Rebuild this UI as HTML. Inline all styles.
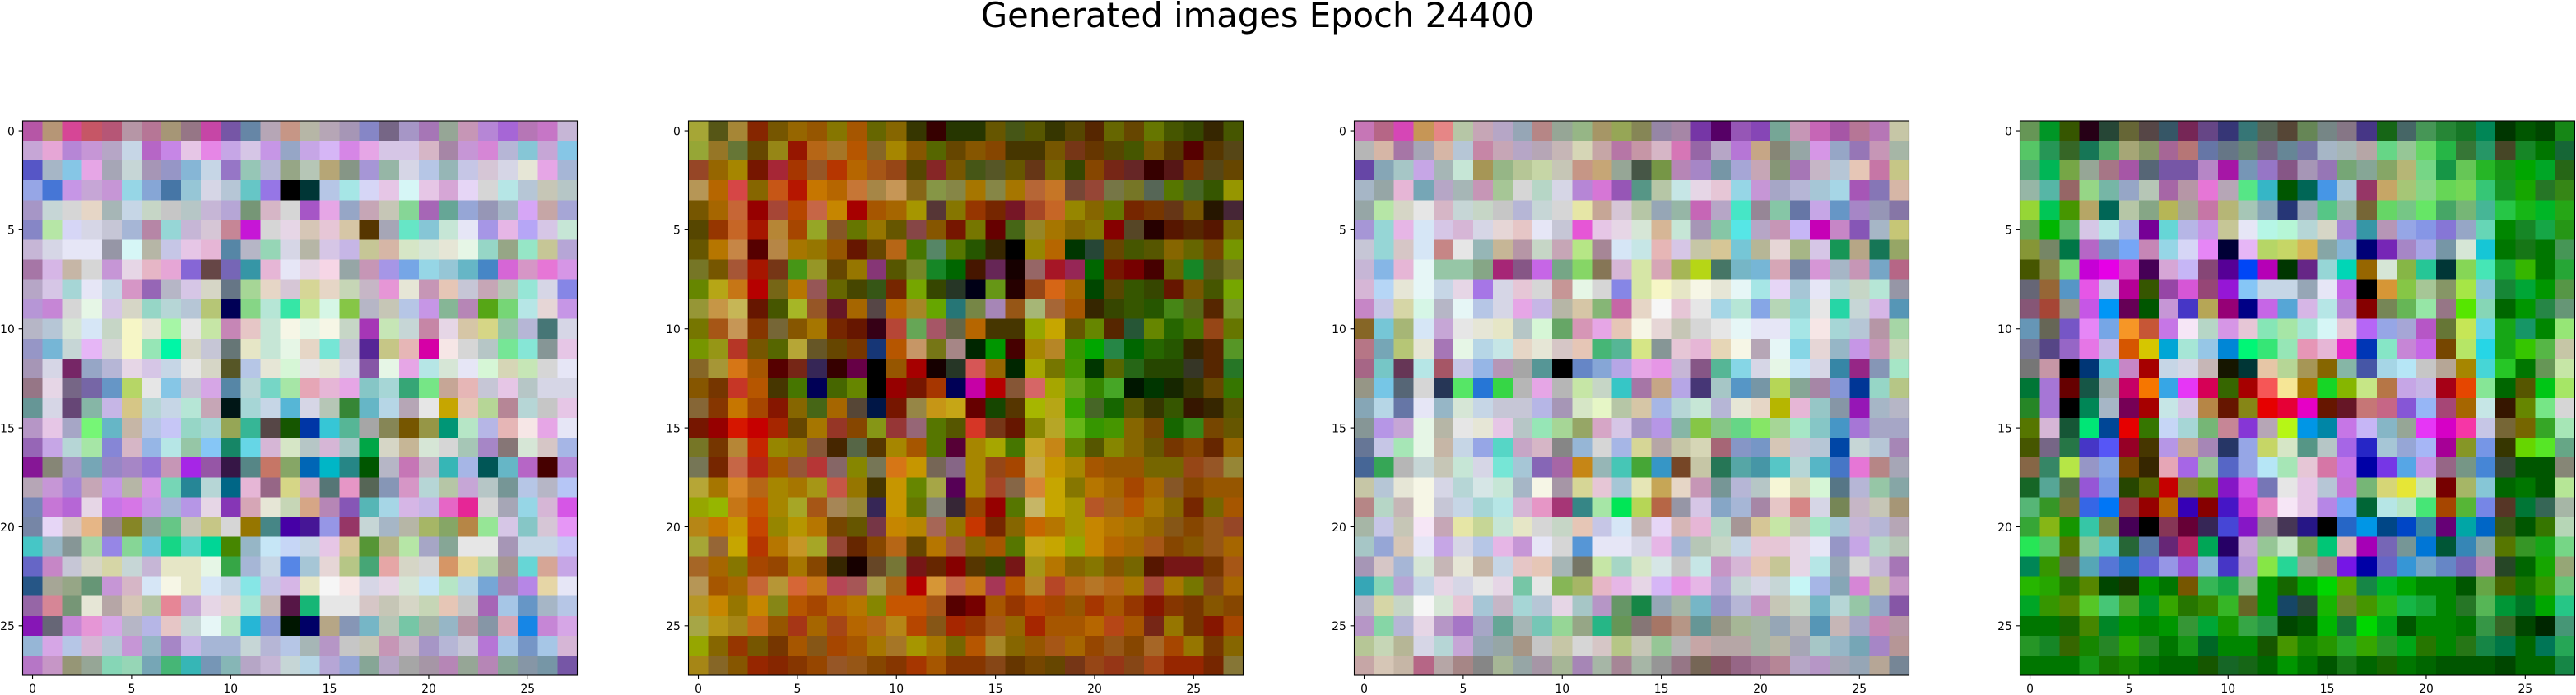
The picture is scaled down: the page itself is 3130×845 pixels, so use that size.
<!DOCTYPE html>
<html lang="en">
<head>
<meta charset="utf-8">
<title>Generated images Epoch 24400</title>
<style>
html,body{margin:0;padding:0;background:#fff;width:3130px;height:845px;overflow:hidden}
svg{display:block}
text{font-family:"DejaVu Sans","Liberation Sans",sans-serif;fill:#000}
</style>
</head>
<body>
<svg id="fig" xmlns="http://www.w3.org/2000/svg" width="3130" height="845" viewBox="0 0 3130 845">
<rect x="0" y="0" width="3130" height="845" fill="#fff"/>
<text x="1528" y="33" font-size="41.67" text-anchor="middle">Generated images Epoch 24400</text>
</svg>
<script>
const tickValues = [0, 5, 10, 15, 20, 25];
const tickLabels = ["0", "5", "10", "15", "20", "25"];
const panelNames = ["image-1", "image-2", "image-3", "image-4"];

const image1Rows = [
"b5a b97 d49 c56 b57 b9a b79 a97 978 c4a 75a 68a bab c98 bba bab a9b 88c 768 a9c a7b 9a9 c9b b8d a6d b7b c7c cbd",
"cad ead b8d c9d bac cde b6c c8e ece e8e cae dce c9e 9ac cae dbf d8e eae dce dce dbc a8a c9d d8d bbd 8cd cad 8ce",
"55c abc 8ce eae aab cdd a9b 99c 8bd cde 97c 9cb bbd 9a8 bcb ba7 898 a9d 9ba dde bce 9bb cce dcd dde eed eae abd",
"9ae 47d c9e cad c9d 9de 8ad 47a 9cd dde bcd 6cc 97e 000 033 bce aee ddf ece dff ece dad edf ddd bee bcd ccb bcc",
"a9c cdd ddd edc abb cde cdc ccc bcc cbd bad 797 dbc ddd a5c eae 9ac cab ccb 8d9 a6b 6a9 9ad 99b abc daf caa aad",
"88c bea ddf dde ccd abd b8a 9dd cbd dcd c89 c1d ddd ede dcb ecd dca 530 aab 6ec 8cd ced eef a9e ebe baf dce ced",
"cbd dde eef eef 99a dff bba cce ece ebd 58a bbc 9db dde bba dce cbe cc9 dba dec ded eed efe 9dc 9a8 9ec cc9 bad",
"a7a dbe cba ddd c9d ede ebc ead 86d 644 76b 39a ebd eef ede fde 9aa c9b a9e 7ae 9de 9cd 6bc 48c d6d d9c e7d d9e",
"bac dce add eef cde d9c 96b bbc dce ddc 678 ad9 edc dcd dd9 edc cdb cbc e9d eed c9b ecb ccd cab bcb 9ed dde 88e",
"b9d c8d ddd efe dce ddc 9dc bdd bcd bc7 005 8d8 bed 3ea ce9 dfe 8c4 bbc ccb bce c9e 8b9 b8b 5a1 7d7 bee edd c9e",
"bbc bcd ded def cdc ffc eed afa eee cea c8b ecc ced ffe efe ffe cdc a3b ceb cdd c8a ede dca dd8 9ca bbd 477 dde",
"99c 7bd cdd ebf ddd ffc 9eb 0fa ddc ccd 677 eec ced efe edc 7ed ccd 529 cc8 ebb d0a fee ddd bcc 7e9 8ed 899 ece",
"a9b dde 726 9ac bbd ede dce cde eee ddc 552 bce eed dfd eee eed dde 85a efe eae bee ded eef dfd ddb ceb ddd eef",
"978 ede 768 76a 69c bd6 eee 8ce ccd dae 58a bdd 7dc aea eab ebd eae 8cc add 3a7 7e8 ca9 ebb ccd ece bcc dde dde",
"699 dde 647 8ba cbe dc8 bdd cde bed cab 011 add cde 5bd dde bcb 383 6bc bde bab eee ca0 ecb bd9 b89 bdd ccc ece",
"b9c ece aac 7f7 6bc cba bce ccf 9dc add 9a5 3b9 544 150 03a 3cd 5b9 aaa 885 750 994 097 bec bbe ebb fee eae eef",
"96b cae bdd aea 88d dbc 9be bee 9ca 8cf 186 6de dbd dec bcc dbd acc 0a4 ddc cb9 ded ddd acb a8c 877 ded dcc abe",
"819 887 a9c 7ab 98c a8c 97d c9b a2e 95a 314 588 c76 8a6 06b 0bc 288 050 bbc c7b cbc 3bb abe 055 6bc b6c 400 b8d",
"bab c9d a8d cab c9e bba d9e 7db 289 bdd 068 ebd 968 dd8 dac 577 e9c 565 89b d9c bdd bca cad bcc 799 bce bbc bcf",
"78b c7d b6d ede c7e d7e c9e abd b9e ede 83b dab eed cdb da8 b8b 85b 5bb ade dbe cbe e6c e29 ddd aab 9de dbd d5e",
"78a edf dcc eb8 988 882 8a9 6c8 ccb cc8 ddd 970 488 40a 419 99e 936 cdd abc bba ab6 8a6 b84 9e9 dce 8cc dcd e9f",
"4cc 9bc 899 ada 98e 8d9 6cd 1d8 5dc 0d9 480 9bc cef cdf cde ece dc9 593 bb8 bea aac 8a9 eee eee a9b cde cde ccf",
"66c c8c ccd ddc dda cdd cbd eec eec efe 3a4 abd cde 58e acd edd bc8 4a7 eaa ddc ddd d96 ed9 bda a99 6dd da9 cae",
"258 aa9 9a8 697 c9d dbc def ffe eec def cde 8ee cce dbe eec fff fee dde ede ded cef bec bde 7ad a8b b8e eda eef",
"96a d89 797 eed baa dcb bca e89 cad ede edd aed cbb 514 1b7 eee eee dcc ccb ddc cdb ecb ccc a6b ace 69c abc bce",
"81b 667 c8d e9d dae bbc bbe ecc cdd eff bec 2bd 89d 010 006 ba8 89b 7bc bcb 7ca aba 9bc b9a 89a dab 18e c8d dae",
"9bd dae bce dbd bcd c9d 9bc a8c cbe abd abd cdd bbd bce abb b9c ccc ccb c9b cbc a9c bbd ccd b7d ace 79c ace dbd",
"b7c c9c 997 9a9 8db 9db 7ab 4b7 3bb 79b 8bb bac cbd cdd bde bad 9ad 8a9 bac aaa a9a b8b 9a9 b8b 8a9 89a 79a 75a"
];

const image2Rows = [
"aa3 551 a83 820 750 960 950 870 a50 660 860 330 300 230 230 650 451 550 330 540 520 660 640 670 450 340 320 450",
"9a3 972 673 640 981 910 b61 a72 b50 862 a80 850 560 640 850 840 430 430 750 731 630 540 450 750 530 500 530 541",
"942 960 a80 710 a23 a30 952 b30 b60 a51 941 540 822 750 451 552 650 631 760 340 840 721 622 300 511 730 541 640",
"b95 b60 d44 860 c51 b10 c70 b60 c73 a84 c95 861 894 884 a70 884 a70 b63 c72 743 943 774 772 565 570 462 350 990",
"750 a60 c63 900 a43 b40 c64 c80 a00 a50 a60 a90 533 870 930 720 712 a42 c62 980 860 670 720 730 631 750 210 423",
"540 930 c62 a10 b83 a40 9a2 852 670 970 650 844 850 710 770 600 461 982 a70 860 870 800 542 200 510 520 510 760",
"650 b70 c84 500 b84 a70 970 950 610 640 b61 470 586 570 250 320 000 980 b60 030 243 640 450 550 860 660 740 790",
"772 750 a53 a10 731 491 992 640 970 837 550 782 182 060 410 625 100 966 a12 925 060 710 700 400 660 182 551 772",
"680 ba1 c71 b00 761 b70 955 660 440 351 720 7a0 340 232 001 691 200 941 d61 a60 040 540 350 340 610 750 450 7a0",
"993 c94 cb5 610 450 ab2 952 612 a60 544 b60 a82 6a0 277 784 a8b 951 ab7 a63 a50 320 340 350 250 481 561 520 792",
"770 a51 c95 830 763 850 a70 720 610 301 b43 6a5 a56 664 b60 430 430 9a0 ca0 650 680 520 253 680 260 470 941 670",
"790 991 b32 750 560 ba3 652 640 730 137 b50 c96 771 a88 020 090 400 a80 b82 390 0a0 284 060 260 250 320 520 592",
"862 a93 d71 a50 500 721 325 300 604 000 950 a00 100 232 d55 960 020 aa0 770 490 030 560 261 240 240 332 520 272",
"850 730 c32 b50 430 470 005 460 680 000 900 710 a30 005 c0a b00 853 d66 aa0 6a1 380 4a2 010 030 120 330 640 370",
"863 830 c70 a40 810 860 461 a60 543 014 710 984 c91 ca1 600 140 530 ab0 ba1 3a0 462 160 550 330 350 310 320 550",
"710 900 d10 c00 a20 640 a70 932 840 891 933 967 570 550 d32 731 610 880 ba2 6b1 390 490 860 740 160 381 740 650",
"772 730 b83 c20 980 970 853 420 564 530 a80 a50 570 503 a80 aa0 470 ca2 c81 680 550 880 860 650 730 840 620 960",
"775 720 c64 b21 a50 953 b33 866 880 775 d71 c90 765 868 a80 941 a40 ca4 c90 a80 a50 950 950 760 760 941 952 983",
"ba3 a70 d82 b61 a80 a70 a91 c54 970 430 c90 680 aa4 505 a80 a42 864 d83 ca0 870 b70 a60 a40 a60 852 840 950 950",
"9a0 9b0 c71 c50 a80 aa2 a51 a85 983 325 c90 670 887 323 940 900 570 cb6 ca0 a90 b52 a61 b50 a70 860 720 760 a50",
"b81 c70 c90 c40 980 b90 b70 740 650 734 c80 b80 a65 970 c30 720 860 c60 b70 a90 c80 b70 a70 960 851 840 951 942",
"aa3 963 ca0 b30 b70 c92 aa2 943 620 840 b61 640 b70 a53 860 a50 570 ca1 ca0 9a0 c80 b60 a60 a51 840 850 951 a60",
"a62 a60 870 a40 940 a70 840 320 100 642 773 711 620 800 530 340 711 a91 b70 860 870 850 760 510 711 711 730 a51",
"b95 a50 a60 c63 b93 d63 c71 b45 a55 a94 a61 b00 d93 c64 c71 a35 b50 b82 b42 b61 b72 b61 a70 a43 a70 770 841 a60",
"b92 c80 970 c80 881 b50 a40 b60 b70 880 c50 c50 a51 500 700 a50 930 b40 a40 950 a30 a50 930 810 830 730 850 840",
"aa4 b91 a81 c61 950 a31 a60 a41 b60 b61 b81 b40 851 a20 930 a51 960 a20 a50 a50 b60 b41 a50 721 970 730 810 a40",
"9a0 860 930 750 730 a50 851 a40 a50 a70 a72 a90 a70 760 b50 a82 860 950 a51 a60 940 951 840 a62 a40 970 730 860",
"a81 862 850 920 820 830 940 952 951 840 830 a30 a50 830 830 841 630 740 640 731 941 931 841 a41 920 920 720 873"
];

const image3Rows = [
"c7b b68 d4b c95 e88 bca cab bac 9ab b88 9a9 9b8 a96 9a5 885 98a a8a 73a 506 95b 84b 7a9 c9b c6b a5a b79 b7b cca",
"bbb dba a7a aab dba bcd c8a cab bac bab cbb ddb caa b7a c9a dbc d7b 96a bac b7d ca8 887 9aa d9e 9ac 97b c9b aba",
"64a 8ab acc cae abb ced a95 9b8 bc9 cda ccb c98 ca7 9a9 454 794 b8b a8c 79a aad cab 897 a7b cbc bcd ecb c7a cc8",
"abc 9aa ebd 7ab bac abb c9b ac9 ddd bdc dde b8d d7d 95b 598 bca cee ede ecd 9de c9d aac bbd acd ade a5b 87b dba",
"9aa bea ddc eee dbc cdd cdc ccc bbd cdd ddd eea ca9 dcd bca 9ab 9ba c6b bac 4ec 989 8ca 67a cae 69c a8c 99b 87a",
"a9d 9dd ebe def dce dbd dde edd ecc eef ccd e5d ece ede ded db9 ced a9b 8ca 5ee bac c9b cbf c0b c8c 85b abc cc7",
"ccd 9dd dcc def c88 eee 9bb cb9 b9a cdc cab be8 a89 def cee ebb dce cca dc9 7cd bb9 edd ab8 dce 195 ba8 175 9a6",
"cbd 8be ebd eff 9ca 9ca 8a8 a27 858 c6e 7a8 8d6 875 dbd dea dab ab5 bd1 476 7bc 7bd dab 78a d9d abc c9b 7ac b68",
"dbd bdf eed eff cde ede a7e dde ecd ddd c99 efe ddd 88e dea ffc eec ffe eed eff aee edf acd eef bdd cdc bed 99a",
"c8c cce dda dfe bbc eff bce dde eae cbe bba dca 8b7 c6a edc fff ecd eee ade bed 8ae bdb 9dd eee 2da cdd dbe 59b",
"862 7cd ab7 def cad eee eed eec bcc dfd 6a6 d9b eae ecb ffe edd ccb ddd eee eff eef eef aee fee add bcd b9a ada",
"b78 7ab bc7 eed a7b efe bde cee edc eed dcc ecb 4b7 5b9 de8 899 ecd ebd edb ffe bab eff 8de edd 9bc c9e c9b cdb",
"a68 7cc 635 bee a56 cce 9be b9b aaa 599 000 68c 8ad bae eae e9e cbd 858 5b9 8de dde efe cef dde 38a 928 89b aec",
"998 7ce 567 ddd 235 5e6 27d 3d4 bbb eae bbb cea cdc 3cc a7a ca8 bae 437 acc 59c 79a bd5 8a9 a8a 89d 039 9dc bc8",
"8ab bde 67a eef 9bc ded cde ccd ccd bbe a9b dec efc bca dca abe bdd ced bbd eed edc bb0 ebd 9cc 89a 91b abc bbc",
"899 b9e cad efe bba eee eed ece bcc 9eb ad9 9a6 dac dce a9c b9e 8ba 8c4 8c8 6d8 8e6 ad9 aec 8cc 49c a7d aac aac",
"679 cce aeb efe cba cde 9ae 5dc cac dbc 888 9bd ddd abe dd9 baa cca ddb a67 89c 79c dcb ccd bcd 04a cdd bcd a8b",
"469 3a5 bbb cdd ccb ced dde 7ed acd 86b a6a c81 9bb 4cb 4a3 39c 742 cca 275 5aa 49a 5cc bdd 5bc 47c e7d b88 aab",
"cca bcd eed ffe dde bdd dee ced abc ffe a9a dd9 ecd acd eeb ca5 edc c9b 799 bbd bcc ffd ddb dfd 578 bbd 9ca 8aa",
"b88 bdc cbb ffe ccd cde add bee dbd e9c a37 388 aea 0e5 bd5 b64 99a dce 8ac abd a8a ecc d88 dde 785 cbc ccb a97",
"aba cce ccb fef cab eea cd9 ced eec ddd cdc ecb cce def cbb edf dbb ebd bdc a99 dc9 cea ccb aec acd cbd bbd bab",
"acc 9ad dcb eef cae dde bce ebe c9d eef ddd 59d eef eef dde ebe abd bcb cdc cde ecd ecd ede eef 99c cae bdc bcb",
"a9b dcc abd ded cbb eed cba cde ecc ecb abb 776 cea adc dec dee ccc cee c9c dbd ecb cc9 ede bee 9ab ddd cbd a7b",
"3ab 8db bad cde ede dde eee ede 7ca eee 8b5 ab6 ebc ebe ede dbf e9e ebe bad cdd dde cdd cff abe 8ab d8d cca c9c",
"bbc dda cdc fff ded ecd acd cbc add bcd ede acc b9c 696 184 9ab aba 7bc 99c bbd c9c ccb cdc 7bc bdd 9ca 9ac 85a",
"b9c 8da bbd ede b9c a7c aac 6a9 abb 7cb 9d9 9a8 2b8 695 877 a76 b98 699 998 ab9 aba 9ab bbb 59b cbb aac c8b b9a",
"bc9 cdb bb9 dde bdd cad 9ab 9aa a98 ccc cca ddd dcc bc8 ccb 9c9 bbb caa baa baa aba bba aab acc 9bc 7ab a8c b99",
"caa dcb cba b68 baa a88 888 ab9 9aa a9a ab9 a8b aba a89 aba 999 978 765 856 968 a79 b89 bac b9c aab 9ab ba9 789"
];

const image4Rows = [
"695 092 350 201 243 663 544 356 725 648 337 377 565 543 685 788 878 438 161 466 495 283 172 085 030 050 040 181",
"5c6 295 362 175 5a6 aa7 896 a69 b77 67a 678 687 768 689 77a abc abb baa 6d8 9c9 6d6 2b4 373 296 442 182 070 163",
"5a7 0b5 7a4 9a9 a78 a5a 567 75a 75a b8c a1a 79b 97c 858 a9b 97b 7a7 8a9 8a6 bb7 7d8 194 6c5 2b2 191 0a0 0a2 261",
"9ba 5ba 966 9d8 7ba 9ac bcb a6a b9a e7d bab 5e8 3bc 050 065 49e acd 936 ca6 ac7 8d8 6d5 7d5 3c7 192 1a0 272 381",
"9d3 0c5 490 ba6 065 bca 8a8 bb5 aa9 c7a bb7 acb 8ab 237 9ab 5c8 9ba 763 6d6 7c8 6e6 4a6 7b7 4b9 2c4 1b1 0b2 2a1",
"6a5 0b0 5b6 dce bee abe 709 6dd bbe c9e cc9 eef bfe bfd bdd ddc a8d 39a b9b 9ae 89e 87d 9ac 6db 080 182 1a4 291",
"893 786 074 b6c 79c 7af c8b 9de ddf e8f 003 ebf bd6 cd6 db5 8aa 8bd 007 72b a8c aae 79a ded 1cd 070 171 070 495",
"450 884 7d7 c0d e0e d4c 405 dad cbf 847 509 04f b0b 030 628 9dd 0db 960 ded 8b4 2c9 033 8d5 4eb 1a3 3b0 070 2a3",
"667 963 59c e5e cce b09 350 94a d5d 947 91d 8cf cde cde 9ab eef c6e 000 d93 8c4 ac9 896 ae4 8cd 183 0a3 090 594",
"857 a43 998 c5e 09f 605 050 c9d 43c ba5 907 008 c6e 5ad dbe bee b8d 800 785 6b5 9ea 978 5e0 8db 060 090 284 697",
"69b 665 75c e8f 7ae f92 c53 c7e fef bdc d9e ecd 8eb aea aed dff ecd b6f 9ae aad b5c 673 ce5 6de 1a1 196 080 9e7",
"779 548 96c e7e cbe d50 dc0 0ad aed 9ce 08d 0f7 3e7 9eb e9b ebd e2c 03b 8ec c8d c6e 740 be6 2de 1a1 3c0 5b4 cca",
"777 c9a 000 037 5cd c8c a00 cde dde cbb 110 033 eca bd9 a95 860 8ba 45a ade bef ccc ba9 a80 4dd 2c2 070 695 cea",
"073 a7d 600 154 9aa c06 f70 3ae e3f d05 360 a00 f55 fe9 a70 1d2 8b0 ce8 b74 cae cbe a01 e40 8e9 060 550 0c1 ae6",
"282 a7d 000 085 abc 705 a00 cee dce b84 610 881 e00 e03 e0c 610 612 c77 c68 85d 9bf a47 a60 cee 310 680 7e8 ddd",
"570 dbd 153 0e7 049 e00 370 cdf add 7b7 c89 83d bab bf1 09e 08a c7e cbf 8bc 9a9 e3f d0c f3a cce 763 760 3a2 aeb",
"450 768 274 43c 55f 902 430 b9e ca9 a8b 236 9ae cd6 dec 598 bcc a6e 22c acd 9ad abf a09 892 79e 330 6d0 5e2 6a8",
"864 386 be4 99c 8ae 740 320 eab a6e 9c9 56c 9ae bef aeb ecd d7a c7e 00a 73e 5ae c9e 968 798 48d 343 050 050 887",
"162 5a9 574 95d 79e 240 560 c00 883 691 81c d5e 77b eee ece bcd c7d 7b7 dd7 ee3 ceb 700 ab6 8cd 060 070 050 be9",
"5b7 392 773 36e 07f 934 900 b60 30b 800 41c c3d e8c fef ece b8e 7af 063 bee bec 4e7 a40 5b3 78e 532 073 365 aba",
"3a3 8b1 190 3ca 784 405 000 835 603 325 44d 81c 989 435 218 000 26c 09e 048 04c 38a 607 0aa 06c 351 050 370 bdb",
"2e5 5c6 570 8c9 5cc 263 57a 627 b26 0a5 206 cad 9c9 cec 7a5 0c7 dbb a0b 76b 799 07d 053 38b 8aa 570 392 1a1 7d8",
"085 390 665 5ab 57d 27c 66d 99e 95d 8bd 43c b9d 8e4 2d9 9a9 988 71e 00a 66c 39d 7ac 68c 76b b8b 242 060 1a0 9a7",
"2b0 2a0 270 580 040 130 090 070 750 3b5 1a4 8b8 090 160 0a0 0d0 5a0 184 0b2 0a0 080 080 050 6a4 460 170 390 6c7",
"0a2 390 580 5c2 4c7 4a2 092 3a0 270 380 3b2 662 090 146 243 1b0 682 490 2b1 1b4 1a3 080 272 5b5 093 072 0a0 2c8",
"070 070 160 480 082 090 080 090 393 0a3 190 3a4 294 040 050 0b0 173 0d0 0a1 050 080 080 070 394 362 040 020 497",
"292 182 360 180 282 2a0 282 070 191 062 080 080 150 490 180 290 2a2 3a0 292 0a1 270 080 271 184 074 060 075 2a5",
"070 070 070 191 170 180 070 060 060 150 162 161 060 090 070 050 171 060 160 070 060 050 050 050 040 060 060 184"
];

const panelRows = [image1Rows, image2Rows, image3Rows, image4Rows];

const SVG_NS = "http://www.w3.org/2000/svg";
const figure = document.getElementById("fig");
const PANEL_LEFT_START = 27.5;
const PANEL_STEP = 809;
const PANEL_TOP = 147;
const PANEL_SIZE = 674;
const GRID_COUNT = 28;

function xAxis(panelIndex, value) {
  return PANEL_LEFT_START + PANEL_STEP * panelIndex + (value + 0.5) * PANEL_SIZE / GRID_COUNT;
}
function yAxis(value) {
  return PANEL_TOP + (value + 0.5) * PANEL_SIZE / GRID_COUNT;
}
function svgEl(tag) {
  return document.createElementNS(SVG_NS, tag);
}
/* Each digit stores the leading hex nibble of a channel; decode to the middle of that nibble's range. */
function channelValue(digit) {
  const n = parseInt(digit, 16);
  return n === 0 ? 0 : n * 16 + 6;
}
function colorScale(hex) {
  return "rgb(" + channelValue(hex[0]) + "," + channelValue(hex[1]) + "," + channelValue(hex[2]) + ")";
}

panelRows.forEach(function (rows, p) {
  const group = svgEl("g");
  
  
  figure.appendChild(group);

  const half = PANEL_SIZE / GRID_COUNT / 2;
  rows.forEach(function (rowText, r) {
    rowText.split(" ").forEach(function (hex, c) {
      const cell = svgEl("rect");
      
      
      const x0 = xAxis(p, c) - half;
      const y0 = yAxis(r) - half;
      cell.setAttribute("x", x0);
      cell.setAttribute("y", y0);
      cell.setAttribute("width", half * 2 + 0.5);
      cell.setAttribute("height", half * 2 + 0.5);
      cell.setAttribute("fill", colorScale(hex));
      cell.setAttribute("shape-rendering", "crispEdges");
      group.appendChild(cell);
    });
  });

  const left = xAxis(p, -0.5);
  const top = yAxis(-0.5);
  const right = xAxis(p, GRID_COUNT - 0.5);
  const bottom = yAxis(GRID_COUNT - 0.5);

  const frame = svgEl("rect");
  
  
  frame.setAttribute("x", left);
  frame.setAttribute("y", top);
  frame.setAttribute("width", right - left);
  frame.setAttribute("height", bottom - top);
  frame.setAttribute("fill", "none");
  frame.setAttribute("stroke", "#000");
  frame.setAttribute("stroke-width", "1.11");
  group.appendChild(frame);

  tickValues.forEach(function (v, i) {
    const xTick = svgEl("line");
    
    
    xTick.setAttribute("x1", xAxis(p, v));
    xTick.setAttribute("x2", xAxis(p, v));
    xTick.setAttribute("y1", bottom);
    xTick.setAttribute("y2", bottom + 4.86);
    xTick.setAttribute("stroke", "#000");
    xTick.setAttribute("stroke-width", "1.11");
    group.appendChild(xTick);

    const xLabel = svgEl("text");
    
    
    xLabel.setAttribute("x", xAxis(p, v));
    xLabel.setAttribute("y", bottom + 21);
    xLabel.setAttribute("font-size", "13.89");
    xLabel.setAttribute("text-anchor", "middle");
    xLabel.textContent = tickLabels[i];
    group.appendChild(xLabel);

    const yTick = svgEl("line");
    
    
    yTick.setAttribute("x1", left - 4.86);
    yTick.setAttribute("x2", left);
    yTick.setAttribute("y1", yAxis(v));
    yTick.setAttribute("y2", yAxis(v));
    yTick.setAttribute("stroke", "#000");
    yTick.setAttribute("stroke-width", "1.11");
    group.appendChild(yTick);

    const yLabel = svgEl("text");
    
    
    yLabel.setAttribute("x", left - 9.7);
    yLabel.setAttribute("y", yAxis(v) + 5.3);
    yLabel.setAttribute("font-size", "13.89");
    yLabel.setAttribute("text-anchor", "end");
    yLabel.textContent = tickLabels[i];
    group.appendChild(yLabel);
  });
});
</script>
</body>
</html>
